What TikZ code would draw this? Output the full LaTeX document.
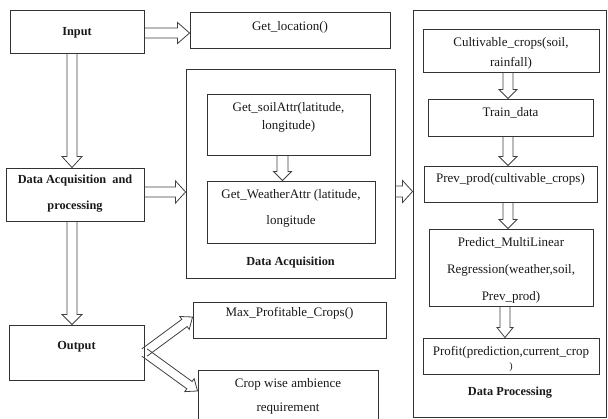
\documentclass[tikz,border=0pt]{standalone}
\usepackage{fontspec}
\setmainfont{Liberation Serif}
\usetikzlibrary{calc}
\tikzset{
  box/.style={draw=black!80, line width=0.9pt, inner sep=0pt, fill=white},
  txt/.style={inner sep=0pt, align=center, text=black!90, font=\fontsize{13}{26}\selectfont},
  btxt/.style={inner sep=0pt, align=center, text=black!90, font=\bfseries\fontsize{12.3}{26}\selectfont},
  arrline/.style={draw=black!75, line width=0.8pt, line join=miter},
}
\newcommand{\bx}[5]{\node[box, minimum width={(#4-#2)*1pt}, minimum height={(#5-#3)*1pt}] (#1) at ({(#2+#4)/2},{-(#3+#5)/2}) {};}
\newcommand{\fatarr}[5]{%
  \path #1 coordinate (fa-a) #2 coordinate (fa-b);
  \path ($(fa-b)!#5!(fa-a)$) coordinate (fa-c);
  \draw[arrline] ($(fa-a)!#3!90:(fa-b)$) -- ($(fa-c)!#3!90:(fa-b)$) -- ($(fa-c)!#4!90:(fa-b)$)
    -- (fa-b) -- ($(fa-c)!#4!-90:(fa-b)$) -- ($(fa-c)!#3!-90:(fa-b)$) -- ($(fa-a)!#3!-90:(fa-b)$);}
\begin{document}
\begin{tikzpicture}[x=1pt,y=1pt]
\useasboundingbox (0,0) rectangle (608,-419);
\fill[white] (0,0) rectangle (608,-419);
\clip (0,0) rectangle (608,-419);
% boxes
\bx{input}{10}{10}{144}{53}
\bx{loc}{190}{12}{390}{48}
\bx{daq}{186}{69}{395}{278}
\bx{soil}{207}{94}{370}{155}
\bx{weather}{207}{181}{375}{243}
\bx{dap}{6}{168}{144}{221}
\bx{dproc}{413}{10}{606}{417}
\bx{cult}{423}{29}{599}{72}
\bx{train}{428}{99}{593}{136}
\bx{prev}{424}{166}{597}{202}
\bx{pred}{429}{229}{593}{306}
\bx{profit}{423}{338}{599}{374}
\bx{output}{9}{325}{144}{380}
\bx{maxp}{193}{302}{386}{338}
\bx{cropw}{198}{370}{378}{426}
% texts
\node[btxt] (t-input) at (77,-33) {Input};
\node[txt] (t-loc) at (290,-27) {Get\_location()};
\node[txt, font=\fontsize{13}{18}\selectfont] (t-soil) at (288.5,-117) {Get\_soilAttr(latitude,\\longitude)};
\node[txt] (t-weather) at (291,-208) {Get\_WeatherAttr (latitude,\\longitude};
\node[btxt] (t-daq) at (290.5,-263) {Data Acquisition};
\node[btxt] (t-dap) at (75,-194) {Data Acquisition\ \ and\\processing};
\node[btxt] (t-dproc) at (510,-393) {Data Processing};
\node[txt, font=\fontsize{13}{20}\selectfont] (t-cult) at (511,-53) {Cultivable\_crops(soil,\\rainfall)};
\node[txt] (t-train) at (510.5,-113) {Train\_data};
\node[txt] (t-prev) at (510.5,-179) {Prev\_prod(cultivable\_crops)};
\node[txt, font=\fontsize{13}{27}\selectfont] (t-pred) at (511,-270) {Predict\_MultiLinear\\Regression(weather,soil,\\Prev\_prod)};
\node[txt] (t-profit) at (511,-352) {Profit(prediction,current\_crop};
\node[txt, font=\fontsize{10}{12}\selectfont] (t-profit2) at (511,-367) {)};
\node[btxt] (t-output) at (76.5,-347) {Output};
\node[txt] (t-maxp) at (289.5,-313) {Max\_Profitable\_Crops()};
\node[txt, font=\fontsize{13}{24}\selectfont] (t-cropw) at (288,-396) {Crop wise ambience\\requirement};
% arrows
\fatarr{($(input.east)+(0,-1.5)$)}{($(loc.west)+(0,-3)$)}{5pt}{10.5pt}{12pt}
\fatarr{($(input.south)+(-5,0)$)}{($(dap.north)+(-3,0)$)}{5pt}{10pt}{11pt}
\fatarr{($(dap.south)+(-3,0)$)}{($(output.north)+(-4.5,0)$)}{5pt}{10pt}{10pt}
\fatarr{($(dap.east)+(0,2.5)$)}{($(daq.west)+(0,-18.5)$)}{5pt}{11pt}{10pt}
\fatarr{($(soil.south)+(-6,0)$)}{($(weather.north)+(-8.5,0)$)}{5.5pt}{9pt}{9pt}
\fatarr{($(daq.east)+(0,-18)$)}{($(dproc.west)+(0,22)$)}{5.5pt}{11pt}{10pt}
\fatarr{($(cult.south)+(-3,0)$)}{($(train.north)+(-2.5,0)$)}{5pt}{9pt}{9pt}
\fatarr{($(train.south)+(-2.5,0)$)}{($(prev.north)+(-2.5,0)$)}{5pt}{9pt}{9pt}
\fatarr{($(prev.south)+(-2.5,0)$)}{($(pred.north)+(-3,0)$)}{5pt}{9pt}{9pt}
\fatarr{($(pred.south)+(-6,0)$)}{($(profit.north)+(-6,0)$)}{5pt}{8pt}{10pt}
\fatarr{(output.east)}{($(maxp.west)+(0,3)$)}{4.5pt}{8pt}{10pt}
\fatarr{(output.east)}{($(cropw.west)+(0,7)$)}{4.5pt}{8pt}{10pt}
\end{tikzpicture}
\end{document}
